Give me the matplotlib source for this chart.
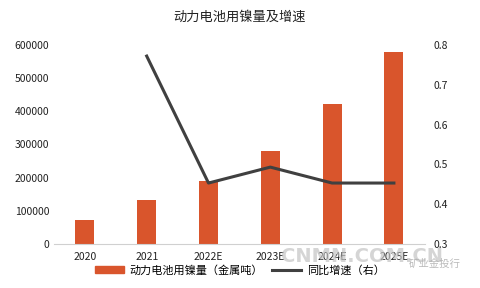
import matplotlib
matplotlib.use("Agg")
import matplotlib.pyplot as plt
from matplotlib.patches import Patch
from matplotlib.lines import Line2D

plt.rcParams['font.family'] = ['Noto Sans CJK SC', 'DejaVu Sans']

years = ["2020", "2021", "2022E", "2023E", "2024E", "2025E"]
nickel = [72000, 132000, 190000, 280000, 421000, 578000]
growth_years = ["2021", "2022E", "2023E", "2024E", "2025E"]
growth = [0.772, 0.453, 0.493, 0.453, 0.453]

bar_color = "#D9552C"
line_color = "#404040"

fig = plt.figure(figsize=(4.8, 2.88), dpi=100)
ax = fig.add_axes([0.1125, 0.153, 0.7725, 0.691])
x = list(range(len(years)))
ax.bar(x, nickel, width=0.31, color=bar_color, zorder=2)
ax.set_xlim(-0.5, len(years) - 0.5)
ax.set_ylim(0, 600000)
ax.set_yticks(range(0, 600001, 100000))
ax.set_xticks(x)
ax.set_xticklabels(years)
ax.tick_params(length=0, labelsize=7.5, colors="#222222")
ax.tick_params(axis='x', pad=6)
for s in ["top", "right", "left"]:
    ax.spines[s].set_visible(False)
ax.spines["bottom"].set_color("#D0D0D0")

ax2 = ax.twinx()
gx = [years.index(y) for y in growth_years]
ax2.plot(gx, growth, color=line_color, linewidth=2.2, zorder=3)
ax2.set_ylim(0.3, 0.8)
ax2.set_yticks([0.3, 0.4, 0.5, 0.6, 0.7, 0.8])
ax2.set_yticklabels(["0.3", "0.4", "0.5", "0.6", "0.7", "0.8"])
ax2.tick_params(length=0, labelsize=7.5, colors="#222222", pad=6)
for s in ["top", "right", "left", "bottom"]:
    ax2.spines[s].set_visible(False)

fig.text(0.5, 0.94, "动力电池用镍量及增速", ha="center", va="center", fontsize=9.5, color="#222222")

handles = [Patch(color=bar_color), Line2D([0], [0], color=line_color, linewidth=2.2)]
labels = ["动力电池用镍量（金属吨）", "同比增速（右）"]
fig.legend(handles, labels, loc="center", bbox_to_anchor=(0.5, 0.062), ncol=2, frameon=False,
           fontsize=8, handlelength=2.6, handleheight=0.6, columnspacing=0.8, handletextpad=0.5)

# watermark
fig.text(0.755, 0.111, "CNMN.COM.CN", ha="center", va="center", fontsize=14,
         color="#C4C4C4", alpha=0.7, fontweight="bold", family="DejaVu Sans")
fig.text(0.905, 0.085, "矿业金投行", ha="center", va="center", fontsize=7.5, color="#AAAAAA", alpha=0.8)

fig.savefig("out.png", dpi=100)
